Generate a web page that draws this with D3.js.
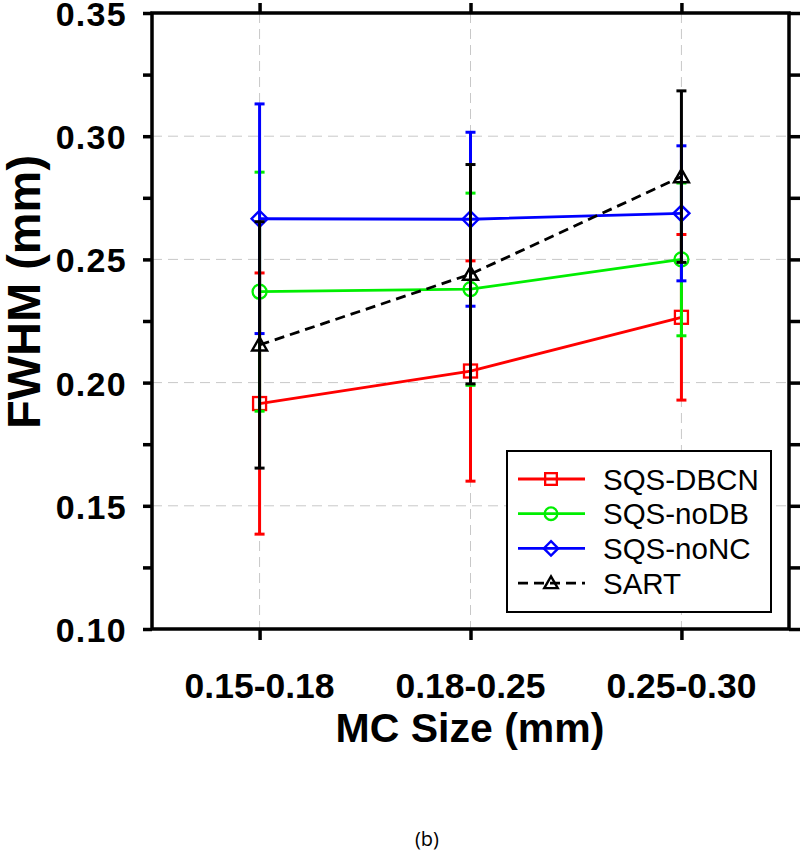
<!DOCTYPE html>
<html>
<head>
<meta charset="utf-8">
<script src="https://cdn.jsdelivr.net/npm/d3@7"></script>
<style>
  html, body { margin: 0; padding: 0; background: #fff; }
  svg { display: block; }
</style>
</head>
<body>
<svg id="chart" width="800" height="861"></svg>
<script>
// ---- data ----
const categories = ["0.15-0.18", "0.18-0.25", "0.25-0.30"];
const seriesNames = ["SQS-DBCN", "SQS-noDB", "SQS-noNC", "SART"];
const dbcnValues = [0.1915, 0.2047, 0.2265];
const dbcnErrors = [0.0530, 0.0447, 0.0336];
const noDBValues = [0.2369, 0.2379, 0.2500];
const noDBErrors = [0.0485, 0.0390, 0.0310];
const noNCValues = [0.2665, 0.2663, 0.2687];
const noNCErrors = [0.0466, 0.0353, 0.0274];
const sartValues = [0.2153, 0.2440, 0.2836];
const sartErrors = [0.0500, 0.0445, 0.0348];
const yMajorTicks = [0.10, 0.15, 0.20, 0.25, 0.30, 0.35];
const yMinorTicks = [0.125, 0.175, 0.225, 0.275, 0.325];

const series = [
  { name: seriesNames[0], values: dbcnValues, errors: dbcnErrors, color: "#ff0000", marker: "square", dash: null },
  { name: seriesNames[1], values: noDBValues, errors: noDBErrors, color: "#00ee00", marker: "circle", dash: null },
  { name: seriesNames[2], values: noNCValues, errors: noNCErrors, color: "#0000ff", marker: "diamond", dash: null },
  { name: seriesNames[3], values: sartValues, errors: sartErrors, color: "#000000", marker: "triangle", dash: "10,6" }
];

// ---- layout ----
const L = 152, R = 789, T = 13, B = 629;
const svg = d3.select("#chart");
const font = "'Liberation Sans', Arial, Helvetica, sans-serif";

const x = d3.scaleLinear().domain([0.49, 3.51]).range([L, R]);
const y = d3.scaleLinear().domain([0.10, 0.35]).range([B, T]);
const xPos = i => x(i + 1);

// grid
const grid = svg.append("g");
grid.selectAll("line.h").data(yMajorTicks.filter(v => v > 0.10 && v < 0.35)).join("line")
  .attr("x1", L).attr("x2", R).attr("y1", d => y(d)).attr("y2", d => y(d))
  .attr("stroke", "#c8c8c8").attr("stroke-width", 1).attr("stroke-dasharray", "10,6");
grid.selectAll("line.v").data(categories).join("line")
  .attr("x1", (d, i) => xPos(i)).attr("x2", (d, i) => xPos(i)).attr("y1", T).attr("y2", B)
  .attr("stroke", "#c8c8c8").attr("stroke-width", 1).attr("stroke-dasharray", "10,6");

// marker symbol generator
function drawMarker(g, type, cx, cy, color, s) {
  s = s || 1;
  if (type === "square") {
    g.append("rect").attr("x", cx - 6.5 * s).attr("y", cy - 6.5 * s).attr("width", 13 * s).attr("height", 13 * s)
      .attr("fill", "none").attr("stroke", color).attr("stroke-width", 2.3);
  } else if (type === "circle") {
    g.append("circle").attr("cx", cx).attr("cy", cy).attr("r", 7 * s)
      .attr("fill", "none").attr("stroke", color).attr("stroke-width", 2.3);
  } else if (type === "diamond") {
    const r = 8 * s;
    g.append("path").attr("d", `M${cx},${cy - r}L${cx + r},${cy}L${cx},${cy + r}L${cx - r},${cy}Z`)
      .attr("fill", "none").attr("stroke", color).attr("stroke-width", 2.4);
  } else if (type === "triangle") {
    const r = 7.5 * s;
    g.append("path").attr("d", `M${cx},${cy - r}L${cx + r},${cy + r * 0.75}L${cx - r},${cy + r * 0.75}Z`)
      .attr("fill", "none").attr("stroke", color).attr("stroke-width", 2.4);
  }
}

// series
const line = d3.line().x((d, i) => xPos(i)).y(d => y(d));
series.forEach(s => {
  const g = svg.append("g");
  // error bars
  s.values.forEach((v, i) => {
    const cx = xPos(i);
    g.append("line").attr("x1", cx).attr("x2", cx).attr("y1", y(v - s.errors[i])).attr("y2", y(v + s.errors[i]))
      .attr("stroke", s.color).attr("stroke-width", 3);
    [v - s.errors[i], v + s.errors[i]].forEach(e => {
      g.append("line").attr("x1", cx - 5).attr("x2", cx + 5).attr("y1", y(e)).attr("y2", y(e))
        .attr("stroke", s.color).attr("stroke-width", 3);
    });
  });
  g.append("path").datum(s.values).attr("d", line).attr("fill", "none")
    .attr("stroke", s.color).attr("stroke-width", 2.8)
    .attr("stroke-dasharray", s.dash);
  s.values.forEach((v, i) => drawMarker(g, s.marker, xPos(i), y(v), s.color));
});

// axes frame
const axisW = 3.5;
const yLeft = d3.axisLeft(y).tickValues(yMajorTicks.concat(yMinorTicks)).tickSize(9).tickFormat("");
const yRight = d3.axisRight(y).tickValues(yMajorTicks.concat(yMinorTicks)).tickSize(12).tickFormat("");
const xBottom = d3.axisBottom(x).tickValues([1, 2, 3]).tickSize(11).tickFormat("");
const xTop = d3.axisTop(x).tickValues([1, 2, 3]).tickSize(10).tickFormat("");

function styleAxis(g) {
  g.select(".domain").remove();
  g.selectAll(".tick line").attr("stroke", "#000").attr("stroke-width", axisW);
}
svg.append("g").attr("transform", `translate(${L},0)`).call(yLeft).call(styleAxis);
svg.append("g").attr("transform", `translate(${R},0)`).call(yRight).call(styleAxis);
svg.append("g").attr("transform", `translate(0,${B})`).call(xBottom).call(styleAxis);
svg.append("g").attr("transform", `translate(0,${T})`).call(xTop).call(styleAxis);
svg.append("rect").attr("x", L).attr("y", T).attr("width", R - L).attr("height", B - T)
  .attr("fill", "none").attr("stroke", "#000").attr("stroke-width", axisW);

// tick labels
svg.append("g").selectAll("text").data(yMajorTicks).join("text")
  .attr("x", 127).attr("y", d => y(d)).attr("dy", "0.38em")
  .attr("text-anchor", "end").attr("font-family", font).attr("font-weight", "bold")
  .attr("font-size", 34).attr("letter-spacing", 1.3).text(d => d.toFixed(2));
svg.append("g").selectAll("text").data(categories).join("text")
  .attr("x", (d, i) => xPos(i)).attr("y", 698)
  .attr("text-anchor", "middle").attr("font-family", font).attr("font-weight", "bold")
  .attr("font-size", 35.5).text(d => d);

// axis titles
svg.append("text").attr("x", 470).attr("y", 742).attr("text-anchor", "middle")
  .attr("font-family", font).attr("font-weight", "bold").attr("font-size", 41).text("MC Size (mm)");
svg.append("text").attr("transform", "translate(40,292) rotate(-90)").attr("text-anchor", "middle")
  .attr("font-family", font).attr("font-weight", "bold").attr("font-size", 47).text("FWHM (mm)");

// legend
const lg = svg.append("g");
lg.append("rect").attr("x", 507).attr("y", 451).attr("width", 264).attr("height", 161)
  .attr("fill", "#fff").attr("stroke", "#000").attr("stroke-width", 2);
series.forEach((s, i) => {
  const cy = 479 + i * 34.7;
  lg.append("line").attr("x1", 518).attr("x2", 585).attr("y1", cy).attr("y2", cy)
    .attr("stroke", s.color).attr("stroke-width", 2.8).attr("stroke-dasharray", s.dash);
  drawMarker(lg, s.marker, 551, cy, s.color, 0.9);
  lg.append("text").attr("x", 603).attr("y", cy).attr("dy", "0.36em")
    .attr("font-family", font).attr("font-size", 29.5).text(s.name);
});

// caption
svg.append("text").attr("x", 427).attr("y", 846).attr("text-anchor", "middle")
  .attr("font-family", "'Open Sans', 'Noto Sans', sans-serif").attr("font-size", 20).text("(b)");
</script>
</body>
</html>
